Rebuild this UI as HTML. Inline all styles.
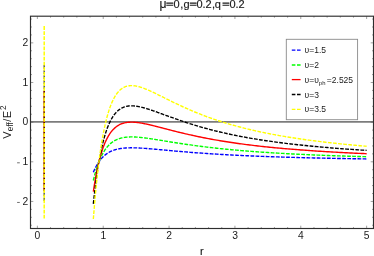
<!DOCTYPE html>
<html><head><meta charset="utf-8"><title>plot</title>
<style>
html,body{margin:0;padding:0;background:#fff;}
body{width:374px;height:256px;overflow:hidden;}
svg{display:block;}
text{font-family:"Liberation Sans",sans-serif;fill:#1a1a1a;}
svg{will-change:transform;transform:translateZ(0);}
</style></head><body>
<svg width="374" height="256" viewBox="0 0 374 256">
<rect width="374" height="256" fill="#fff"/>
<!-- zero line -->
<line x1="30.5" x2="373.5" y1="121.85" y2="121.85" stroke="#7c7c7c" stroke-width="1.85"/>
<!-- curves -->
<g>
<polyline points="93.34,172.31 93.88,171.04 94.43,169.83 94.97,168.68 95.52,167.58 96.06,166.54 96.61,165.54 97.15,164.60 97.70,163.70 98.24,162.84 98.79,162.03 99.33,161.25 99.88,160.51 100.42,159.81 100.97,159.14 101.51,158.50 102.06,157.90 102.60,157.32 103.14,156.77 103.69,156.25 104.23,155.75 104.78,155.28 105.32,154.83 105.87,154.41 106.41,154.00 106.96,153.62 107.50,153.25 108.05,152.91 108.59,152.58 109.14,152.26 109.68,151.97 110.23,151.69 110.77,151.42 111.32,151.17 111.86,150.93 112.41,150.70 112.95,150.49 113.50,150.29 114.04,150.10 114.59,149.92 115.13,149.75 115.68,149.59 116.22,149.44 116.77,149.30 117.31,149.17 117.86,149.04 118.40,148.93 118.95,148.82 119.49,148.71 120.04,148.62 120.58,148.53 121.13,148.45 121.67,148.38 122.21,148.31 122.76,148.24 123.30,148.18 123.85,148.13 124.39,148.08 124.94,148.04 125.48,148.00 126.03,147.96 126.57,147.93 127.12,147.90 127.66,147.88 128.21,147.86 128.75,147.84 129.30,147.83 129.84,147.82 130.39,147.81 130.93,147.81 131.48,147.81 132.02,147.81 132.57,147.81 133.11,147.82 133.66,147.83 134.20,147.84 134.75,147.85 135.29,147.87 135.84,147.88 136.38,147.90 136.93,147.92 137.47,147.94 138.02,147.97 138.56,147.99 139.11,148.02 139.65,148.05 140.19,148.08 140.74,148.11 141.28,148.14 141.83,148.17 142.37,148.21 142.92,148.24 143.46,148.28 144.01,148.32 144.55,148.35 145.10,148.39 145.64,148.43 146.19,148.47 146.73,148.51 147.28,148.56 147.82,148.60 148.37,148.64 148.91,148.69 149.46,148.73 150.00,148.77 150.55,148.82 151.09,148.87 151.64,148.91 152.18,148.96 152.73,149.00 153.27,149.05 153.82,149.10 154.36,149.15 154.91,149.20 155.45,149.24 156.00,149.29 156.54,149.34 157.09,149.39 157.63,149.44 158.17,149.49 158.72,149.54 159.26,149.59 159.81,149.64 160.35,149.69 160.90,149.74 161.44,149.79 161.99,149.84 162.53,149.89 163.08,149.94 163.62,149.99 164.17,150.04 164.71,150.08 165.26,150.13 165.80,150.18 166.35,150.23 166.89,150.28 167.44,150.33 167.98,150.38 168.53,150.43 169.07,150.48 170.72,150.63 172.36,150.78 174.01,150.93 175.66,151.07 177.30,151.22 178.95,151.36 180.60,151.50 182.24,151.64 183.89,151.78 185.54,151.92 187.18,152.05 188.83,152.19 190.48,152.32 192.12,152.45 193.77,152.57 195.41,152.70 197.06,152.82 198.71,152.94 200.35,153.06 202.00,153.18 203.65,153.30 205.29,153.41 206.94,153.52 208.59,153.63 210.23,153.74 211.88,153.85 213.52,153.95 215.17,154.06 216.82,154.16 218.46,154.26 220.11,154.36 221.76,154.45 223.40,154.55 225.05,154.64 226.70,154.73 228.34,154.82 229.99,154.91 231.64,155.00 233.28,155.09 234.93,155.17 236.57,155.25 238.22,155.33 239.87,155.41 241.51,155.49 243.16,155.57 244.81,155.65 246.45,155.72 248.10,155.79 249.75,155.87 251.39,155.94 253.04,156.01 254.68,156.08 256.33,156.14 257.98,156.21 259.62,156.28 261.27,156.34 262.92,156.40 264.56,156.47 266.21,156.53 267.86,156.59 269.50,156.65 271.15,156.71 272.80,156.76 274.44,156.82 276.09,156.88 277.73,156.93 279.38,156.98 281.03,157.04 282.67,157.09 284.32,157.14 285.97,157.19 287.61,157.24 289.26,157.29 290.91,157.34 292.55,157.39 294.20,157.43 295.84,157.48 297.49,157.52 299.14,157.57 300.78,157.61 302.43,157.66 304.08,157.70 305.72,157.74 307.37,157.78 309.02,157.82 310.66,157.86 312.31,157.90 313.96,157.94 315.60,157.98 317.25,158.02 318.89,158.06 320.54,158.09 322.19,158.13 323.83,158.17 325.48,158.20 327.13,158.24 328.77,158.27 330.42,158.30 332.07,158.34 333.71,158.37 335.36,158.40 337.00,158.44 338.65,158.47 340.30,158.50 341.94,158.53 343.59,158.56 345.24,158.59 346.88,158.62 348.53,158.65 350.18,158.68 351.82,158.70 353.47,158.73 355.12,158.76 356.76,158.79 358.41,158.81 360.05,158.84 361.70,158.87 363.35,158.89 364.99,158.92 366.64,158.94" stroke="#0000ff" stroke-width="1.38" fill="none" stroke-dasharray="3.75 1.35" stroke-linejoin="round"/>
<polyline points="93.34,180.49 93.88,178.22 94.43,176.07 94.97,174.03 95.52,172.08 96.06,170.22 96.61,168.46 97.15,166.78 97.70,165.18 98.24,163.65 98.79,162.20 99.33,160.82 99.88,159.51 100.42,158.26 100.97,157.07 101.51,155.94 102.06,154.86 102.60,153.84 103.14,152.86 103.69,151.93 104.23,151.05 104.78,150.21 105.32,149.42 105.87,148.66 106.41,147.94 106.96,147.26 107.50,146.61 108.05,145.99 108.59,145.40 109.14,144.85 109.68,144.32 110.23,143.82 110.77,143.35 111.32,142.90 111.86,142.48 112.41,142.07 112.95,141.69 113.50,141.34 114.04,141.00 114.59,140.68 115.13,140.38 115.68,140.09 116.22,139.83 116.77,139.57 117.31,139.34 117.86,139.12 118.40,138.91 118.95,138.72 119.49,138.54 120.04,138.37 120.58,138.21 121.13,138.07 121.67,137.93 122.21,137.81 122.76,137.70 123.30,137.59 123.85,137.50 124.39,137.41 124.94,137.33 125.48,137.26 126.03,137.20 126.57,137.14 127.12,137.09 127.66,137.05 128.21,137.02 128.75,136.99 129.30,136.96 129.84,136.95 130.39,136.93 130.93,136.93 131.48,136.92 132.02,136.93 132.57,136.93 133.11,136.95 133.66,136.96 134.20,136.98 134.75,137.00 135.29,137.03 135.84,137.06 136.38,137.09 136.93,137.13 137.47,137.17 138.02,137.21 138.56,137.26 139.11,137.30 139.65,137.35 140.19,137.41 140.74,137.46 141.28,137.52 141.83,137.58 142.37,137.64 142.92,137.70 143.46,137.76 144.01,137.83 144.55,137.90 145.10,137.97 145.64,138.04 146.19,138.11 146.73,138.18 147.28,138.26 147.82,138.33 148.37,138.41 148.91,138.49 149.46,138.56 150.00,138.64 150.55,138.72 151.09,138.81 151.64,138.89 152.18,138.97 152.73,139.05 153.27,139.14 153.82,139.22 154.36,139.31 154.91,139.39 155.45,139.48 156.00,139.56 156.54,139.65 157.09,139.74 157.63,139.82 158.17,139.91 158.72,140.00 159.26,140.09 159.81,140.18 160.35,140.26 160.90,140.35 161.44,140.44 161.99,140.53 162.53,140.62 163.08,140.71 163.62,140.80 164.17,140.88 164.71,140.97 165.26,141.06 165.80,141.15 166.35,141.24 166.89,141.33 167.44,141.42 167.98,141.50 168.53,141.59 169.07,141.68 170.72,141.95 172.36,142.21 174.01,142.47 175.66,142.73 177.30,142.99 178.95,143.24 180.60,143.49 182.24,143.74 183.89,143.99 185.54,144.23 187.18,144.47 188.83,144.71 190.48,144.94 192.12,145.17 193.77,145.40 195.41,145.62 197.06,145.84 198.71,146.06 200.35,146.27 202.00,146.48 203.65,146.68 205.29,146.89 206.94,147.09 208.59,147.28 210.23,147.48 211.88,147.67 213.52,147.85 215.17,148.04 216.82,148.22 218.46,148.39 220.11,148.57 221.76,148.74 223.40,148.91 225.05,149.07 226.70,149.24 228.34,149.40 229.99,149.56 231.64,149.71 233.28,149.86 234.93,150.01 236.57,150.16 238.22,150.30 239.87,150.45 241.51,150.59 243.16,150.72 244.81,150.86 246.45,150.99 248.10,151.12 249.75,151.25 251.39,151.38 253.04,151.50 254.68,151.63 256.33,151.75 257.98,151.86 259.62,151.98 261.27,152.09 262.92,152.21 264.56,152.32 266.21,152.43 267.86,152.53 269.50,152.64 271.15,152.74 272.80,152.85 274.44,152.95 276.09,153.04 277.73,153.14 279.38,153.24 281.03,153.33 282.67,153.43 284.32,153.52 285.97,153.61 287.61,153.70 289.26,153.78 290.91,153.87 292.55,153.95 294.20,154.04 295.84,154.12 297.49,154.20 299.14,154.28 300.78,154.36 302.43,154.43 304.08,154.51 305.72,154.58 307.37,154.66 309.02,154.73 310.66,154.80 312.31,154.87 313.96,154.94 315.60,155.01 317.25,155.08 318.89,155.15 320.54,155.21 322.19,155.28 323.83,155.34 325.48,155.40 327.13,155.46 328.77,155.53 330.42,155.59 332.07,155.64 333.71,155.70 335.36,155.76 337.00,155.82 338.65,155.87 340.30,155.93 341.94,155.98 343.59,156.04 345.24,156.09 346.88,156.14 348.53,156.20 350.18,156.25 351.82,156.30 353.47,156.35 355.12,156.40 356.76,156.44 358.41,156.49 360.05,156.54 361.70,156.59 363.35,156.63 364.99,156.68 366.64,156.72" stroke="#00ff00" stroke-width="1.38" fill="none" stroke-dasharray="3.75 1.35" stroke-linejoin="round"/>
<path d="M44.20 90.99 L44.20 191.14" stroke="#ff0000" stroke-width="1.48" fill="none"/>
<polyline points="93.34,191.58 93.88,187.98 94.43,184.55 94.97,181.29 95.52,178.18 96.06,175.22 96.61,172.41 97.15,169.73 97.70,167.18 98.24,164.75 98.79,162.44 99.33,160.24 99.88,158.15 100.42,156.16 100.97,154.26 101.51,152.46 102.06,150.74 102.60,149.11 103.14,147.55 103.69,146.08 104.23,144.67 104.78,143.33 105.32,142.06 105.87,140.86 106.41,139.71 106.96,138.62 107.50,137.58 108.05,136.60 108.59,135.67 109.14,134.78 109.68,133.94 110.23,133.14 110.77,132.39 111.32,131.68 111.86,131.00 112.41,130.36 112.95,129.75 113.50,129.18 114.04,128.64 114.59,128.13 115.13,127.65 115.68,127.20 116.22,126.78 116.77,126.38 117.31,126.00 117.86,125.65 118.40,125.32 118.95,125.01 119.49,124.72 120.04,124.45 120.58,124.20 121.13,123.97 121.67,123.76 122.21,123.56 122.76,123.38 123.30,123.21 123.85,123.06 124.39,122.92 124.94,122.80 125.48,122.69 126.03,122.59 126.57,122.50 127.12,122.42 127.66,122.35 128.21,122.30 128.75,122.25 129.30,122.21 129.84,122.19 130.39,122.17 130.93,122.15 131.48,122.15 132.02,122.16 132.57,122.17 133.11,122.18 133.66,122.21 134.20,122.24 134.75,122.28 135.29,122.32 135.84,122.37 136.38,122.42 136.93,122.48 137.47,122.54 138.02,122.61 138.56,122.68 139.11,122.75 139.65,122.83 140.19,122.92 140.74,123.01 141.28,123.10 141.83,123.19 142.37,123.29 142.92,123.39 143.46,123.49 144.01,123.59 144.55,123.70 145.10,123.81 145.64,123.92 146.19,124.04 146.73,124.16 147.28,124.27 147.82,124.39 148.37,124.52 148.91,124.64 149.46,124.76 150.00,124.89 150.55,125.02 151.09,125.15 151.64,125.28 152.18,125.41 152.73,125.54 153.27,125.68 153.82,125.81 154.36,125.95 154.91,126.08 155.45,126.22 156.00,126.36 156.54,126.49 157.09,126.63 157.63,126.77 158.17,126.91 158.72,127.05 159.26,127.19 159.81,127.33 160.35,127.47 160.90,127.61 161.44,127.76 161.99,127.90 162.53,128.04 163.08,128.18 163.62,128.32 164.17,128.46 164.71,128.60 165.26,128.75 165.80,128.89 166.35,129.03 166.89,129.17 167.44,129.31 167.98,129.45 168.53,129.59 169.07,129.73 170.72,130.16 172.36,130.58 174.01,130.99 175.66,131.41 177.30,131.82 178.95,132.22 180.60,132.62 182.24,133.02 183.89,133.41 185.54,133.80 187.18,134.18 188.83,134.56 190.48,134.93 192.12,135.29 193.77,135.65 195.41,136.01 197.06,136.36 198.71,136.70 200.35,137.04 202.00,137.38 203.65,137.71 205.29,138.03 206.94,138.35 208.59,138.66 210.23,138.97 211.88,139.27 213.52,139.57 215.17,139.86 216.82,140.15 218.46,140.43 220.11,140.71 221.76,140.98 223.40,141.25 225.05,141.52 226.70,141.78 228.34,142.03 229.99,142.28 231.64,142.53 233.28,142.77 234.93,143.01 236.57,143.25 238.22,143.48 239.87,143.70 241.51,143.93 243.16,144.15 244.81,144.36 246.45,144.57 248.10,144.78 249.75,144.99 251.39,145.19 253.04,145.39 254.68,145.58 256.33,145.77 257.98,145.96 259.62,146.15 261.27,146.33 262.92,146.51 264.56,146.69 266.21,146.86 267.86,147.03 269.50,147.20 271.15,147.36 272.80,147.53 274.44,147.69 276.09,147.85 277.73,148.00 279.38,148.15 281.03,148.30 282.67,148.45 284.32,148.60 285.97,148.74 287.61,148.88 289.26,149.02 290.91,149.16 292.55,149.29 294.20,149.42 295.84,149.56 297.49,149.68 299.14,149.81 300.78,149.94 302.43,150.06 304.08,150.18 305.72,150.30 307.37,150.42 309.02,150.53 310.66,150.65 312.31,150.76 313.96,150.87 315.60,150.98 317.25,151.09 318.89,151.19 320.54,151.30 322.19,151.40 323.83,151.50 325.48,151.60 327.13,151.70 328.77,151.80 330.42,151.89 332.07,151.99 333.71,152.08 335.36,152.17 337.00,152.27 338.65,152.35 340.30,152.44 341.94,152.53 343.59,152.62 345.24,152.70 346.88,152.78 348.53,152.87 350.18,152.95 351.82,153.03 353.47,153.11 355.12,153.19 356.76,153.26 358.41,153.34 360.05,153.41 361.70,153.49 363.35,153.56 364.99,153.63 366.64,153.71" stroke="#ff0000" stroke-width="1.38" fill="none" stroke-linejoin="round"/>
<path d="M44.20 65.05 L44.20 201.05" stroke="#000000" stroke-width="1.48" fill="none" stroke-dasharray="3.8 1.3" opacity="0.65"/>
<polyline points="93.34,203.84 93.88,198.76 94.43,193.91 94.97,189.31 95.52,184.92 96.06,180.75 96.61,176.78 97.15,172.99 97.70,169.39 98.24,165.97 98.79,162.71 99.33,159.60 99.88,156.65 100.42,153.84 100.97,151.16 101.51,148.61 102.06,146.19 102.60,143.88 103.14,141.69 103.69,139.60 104.23,137.62 104.78,135.73 105.32,133.94 105.87,132.23 106.41,130.61 106.96,129.08 107.50,127.61 108.05,126.23 108.59,124.91 109.14,123.66 109.68,122.47 110.23,121.35 110.77,120.28 111.32,119.28 111.86,118.32 112.41,117.42 112.95,116.56 113.50,115.76 114.04,114.99 114.59,114.28 115.13,113.60 115.68,112.96 116.22,112.36 116.77,111.79 117.31,111.26 117.86,110.77 118.40,110.30 118.95,109.87 119.49,109.46 120.04,109.08 120.58,108.73 121.13,108.40 121.67,108.10 122.21,107.82 122.76,107.57 123.30,107.33 123.85,107.12 124.39,106.92 124.94,106.74 125.48,106.59 126.03,106.45 126.57,106.32 127.12,106.21 127.66,106.12 128.21,106.04 128.75,105.97 129.30,105.92 129.84,105.88 130.39,105.85 130.93,105.84 131.48,105.83 132.02,105.84 132.57,105.85 133.11,105.88 133.66,105.91 134.20,105.95 134.75,106.01 135.29,106.07 135.84,106.13 136.38,106.21 136.93,106.29 137.47,106.38 138.02,106.47 138.56,106.58 139.11,106.68 139.65,106.80 140.19,106.91 140.74,107.04 141.28,107.16 141.83,107.30 142.37,107.43 142.92,107.57 143.46,107.72 144.01,107.87 144.55,108.02 145.10,108.17 145.64,108.33 146.19,108.50 146.73,108.66 147.28,108.83 147.82,109.00 148.37,109.17 148.91,109.34 149.46,109.52 150.00,109.70 150.55,109.88 151.09,110.06 151.64,110.25 152.18,110.43 152.73,110.62 153.27,110.81 153.82,111.00 154.36,111.19 154.91,111.38 155.45,111.57 156.00,111.77 156.54,111.96 157.09,112.16 157.63,112.35 158.17,112.55 158.72,112.75 159.26,112.95 159.81,113.14 160.35,113.34 160.90,113.54 161.44,113.74 161.99,113.94 162.53,114.14 163.08,114.34 163.62,114.54 164.17,114.74 164.71,114.94 165.26,115.14 165.80,115.34 166.35,115.54 166.89,115.74 167.44,115.94 167.98,116.14 168.53,116.33 169.07,116.53 170.72,117.13 172.36,117.72 174.01,118.31 175.66,118.90 177.30,119.47 178.95,120.05 180.60,120.61 182.24,121.17 183.89,121.73 185.54,122.27 187.18,122.81 188.83,123.34 190.48,123.87 192.12,124.38 193.77,124.89 195.41,125.39 197.06,125.89 198.71,126.37 200.35,126.85 202.00,127.32 203.65,127.79 205.29,128.25 206.94,128.69 208.59,129.14 210.23,129.57 211.88,130.00 213.52,130.42 215.17,130.83 216.82,131.24 218.46,131.64 220.11,132.03 221.76,132.42 223.40,132.80 225.05,133.17 226.70,133.54 228.34,133.90 229.99,134.25 231.64,134.60 233.28,134.94 234.93,135.28 236.57,135.61 238.22,135.94 239.87,136.26 241.51,136.57 243.16,136.88 244.81,137.18 246.45,137.48 248.10,137.78 249.75,138.07 251.39,138.35 253.04,138.63 254.68,138.91 256.33,139.18 257.98,139.44 259.62,139.71 261.27,139.96 262.92,140.22 264.56,140.47 266.21,140.71 267.86,140.95 269.50,141.19 271.15,141.42 272.80,141.65 274.44,141.88 276.09,142.10 277.73,142.32 279.38,142.54 281.03,142.75 282.67,142.96 284.32,143.16 285.97,143.36 287.61,143.56 289.26,143.76 290.91,143.95 292.55,144.14 294.20,144.33 295.84,144.52 297.49,144.70 299.14,144.88 300.78,145.05 302.43,145.23 304.08,145.40 305.72,145.56 307.37,145.73 309.02,145.89 310.66,146.06 312.31,146.21 313.96,146.37 315.60,146.52 317.25,146.68 318.89,146.83 320.54,146.97 322.19,147.12 323.83,147.26 325.48,147.40 327.13,147.54 328.77,147.68 330.42,147.82 332.07,147.95 333.71,148.08 335.36,148.21 337.00,148.34 338.65,148.47 340.30,148.59 341.94,148.71 343.59,148.84 345.24,148.96 346.88,149.07 348.53,149.19 350.18,149.30 351.82,149.42 353.47,149.53 355.12,149.64 356.76,149.75 358.41,149.86 360.05,149.96 361.70,150.07 363.35,150.17 364.99,150.27 366.64,150.37" stroke="#000000" stroke-width="1.38" fill="none" stroke-dasharray="3.75 1.35" stroke-linejoin="round"/>
<path d="M44.20 26.12 L44.20 218.50" stroke="#ffff00" stroke-width="1.48" fill="none" stroke-dasharray="3.8 1.3"/>
<polyline points="93.34,219.02 93.88,212.10 94.43,205.51 94.97,199.24 95.52,193.27 96.06,187.59 96.61,182.18 97.15,177.04 97.70,172.14 98.24,167.47 98.79,163.03 99.33,158.81 99.88,154.79 100.42,150.96 100.97,147.32 101.51,143.85 102.06,140.55 102.60,137.41 103.14,134.43 103.69,131.59 104.23,128.89 104.78,126.32 105.32,123.88 105.87,121.56 106.41,119.35 106.96,117.26 107.50,115.27 108.05,113.38 108.59,111.59 109.14,109.89 109.68,108.27 110.23,106.74 110.77,105.29 111.32,103.92 111.86,102.62 112.41,101.39 112.95,100.23 113.50,99.13 114.04,98.09 114.59,97.11 115.13,96.19 115.68,95.32 116.22,94.50 116.77,93.74 117.31,93.01 117.86,92.34 118.40,91.70 118.95,91.11 119.49,90.56 120.04,90.04 120.58,89.57 121.13,89.12 121.67,88.71 122.21,88.33 122.76,87.98 123.30,87.66 123.85,87.37 124.39,87.10 124.94,86.86 125.48,86.65 126.03,86.46 126.57,86.29 127.12,86.14 127.66,86.01 128.21,85.90 128.75,85.81 129.30,85.74 129.84,85.69 130.39,85.65 130.93,85.63 131.48,85.62 132.02,85.63 132.57,85.65 133.11,85.68 133.66,85.73 134.20,85.79 134.75,85.86 135.29,85.94 135.84,86.03 136.38,86.13 136.93,86.25 137.47,86.37 138.02,86.50 138.56,86.63 139.11,86.78 139.65,86.93 140.19,87.09 140.74,87.26 141.28,87.43 141.83,87.61 142.37,87.80 142.92,87.99 143.46,88.19 144.01,88.39 144.55,88.60 145.10,88.81 145.64,89.03 146.19,89.25 146.73,89.47 147.28,89.70 147.82,89.93 148.37,90.16 148.91,90.40 149.46,90.64 150.00,90.88 150.55,91.13 151.09,91.38 151.64,91.63 152.18,91.88 152.73,92.14 153.27,92.39 153.82,92.65 154.36,92.91 154.91,93.17 155.45,93.44 156.00,93.70 156.54,93.97 157.09,94.23 157.63,94.50 158.17,94.77 158.72,95.04 159.26,95.30 159.81,95.57 160.35,95.84 160.90,96.12 161.44,96.39 161.99,96.66 162.53,96.93 163.08,97.20 163.62,97.47 164.17,97.75 164.71,98.02 165.26,98.29 165.80,98.56 166.35,98.83 166.89,99.10 167.44,99.38 167.98,99.65 168.53,99.92 169.07,100.19 170.72,101.00 172.36,101.81 174.01,102.61 175.66,103.40 177.30,104.19 178.95,104.97 180.60,105.74 182.24,106.50 183.89,107.25 185.54,108.00 187.18,108.73 188.83,109.45 190.48,110.17 192.12,110.87 193.77,111.56 195.41,112.25 197.06,112.92 198.71,113.58 200.35,114.23 202.00,114.88 203.65,115.51 205.29,116.13 206.94,116.74 208.59,117.34 210.23,117.93 211.88,118.51 213.52,119.09 215.17,119.65 216.82,120.20 218.46,120.74 220.11,121.28 221.76,121.80 223.40,122.32 225.05,122.83 226.70,123.33 228.34,123.82 229.99,124.30 231.64,124.78 233.28,125.24 234.93,125.70 236.57,126.15 238.22,126.60 239.87,127.03 241.51,127.46 243.16,127.88 244.81,128.30 246.45,128.70 248.10,129.10 249.75,129.50 251.39,129.88 253.04,130.27 254.68,130.64 256.33,131.01 257.98,131.37 259.62,131.73 261.27,132.08 262.92,132.42 264.56,132.76 266.21,133.10 267.86,133.42 269.50,133.75 271.15,134.06 272.80,134.38 274.44,134.68 276.09,134.99 277.73,135.29 279.38,135.58 281.03,135.87 282.67,136.15 284.32,136.43 285.97,136.71 287.61,136.98 289.26,137.25 290.91,137.51 292.55,137.77 294.20,138.02 295.84,138.27 297.49,138.52 299.14,138.76 300.78,139.00 302.43,139.24 304.08,139.47 305.72,139.70 307.37,139.93 309.02,140.15 310.66,140.37 312.31,140.59 313.96,140.80 315.60,141.01 317.25,141.22 318.89,141.42 320.54,141.62 322.19,141.82 323.83,142.01 325.48,142.21 327.13,142.40 328.77,142.58 330.42,142.77 332.07,142.95 333.71,143.13 335.36,143.31 337.00,143.48 338.65,143.65 340.30,143.82 341.94,143.99 343.59,144.15 345.24,144.32 346.88,144.48 348.53,144.64 350.18,144.79 351.82,144.95 353.47,145.10 355.12,145.25 356.76,145.40 358.41,145.54 360.05,145.69 361.70,145.83 363.35,145.97 364.99,146.11 366.64,146.25" stroke="#ffff00" stroke-width="1.38" fill="none" stroke-dasharray="3.75 1.35" stroke-linejoin="round"/>
</g>
<!-- ticks -->
<line x1="37.36" y1="228.50" x2="37.36" y2="225.70" stroke="#444" stroke-width="0.5"/>
<line x1="37.36" y1="16.20" x2="37.36" y2="19.00" stroke="#444" stroke-width="0.5"/>
<line x1="50.53" y1="228.50" x2="50.53" y2="227.00" stroke="#444" stroke-width="0.5"/>
<line x1="50.53" y1="16.20" x2="50.53" y2="17.70" stroke="#444" stroke-width="0.5"/>
<line x1="63.70" y1="228.50" x2="63.70" y2="227.00" stroke="#444" stroke-width="0.5"/>
<line x1="63.70" y1="16.20" x2="63.70" y2="17.70" stroke="#444" stroke-width="0.5"/>
<line x1="76.87" y1="228.50" x2="76.87" y2="227.00" stroke="#444" stroke-width="0.5"/>
<line x1="76.87" y1="16.20" x2="76.87" y2="17.70" stroke="#444" stroke-width="0.5"/>
<line x1="90.04" y1="228.50" x2="90.04" y2="227.00" stroke="#444" stroke-width="0.5"/>
<line x1="90.04" y1="16.20" x2="90.04" y2="17.70" stroke="#444" stroke-width="0.5"/>
<line x1="103.22" y1="228.50" x2="103.22" y2="225.70" stroke="#444" stroke-width="0.5"/>
<line x1="103.22" y1="16.20" x2="103.22" y2="19.00" stroke="#444" stroke-width="0.5"/>
<line x1="116.39" y1="228.50" x2="116.39" y2="227.00" stroke="#444" stroke-width="0.5"/>
<line x1="116.39" y1="16.20" x2="116.39" y2="17.70" stroke="#444" stroke-width="0.5"/>
<line x1="129.56" y1="228.50" x2="129.56" y2="227.00" stroke="#444" stroke-width="0.5"/>
<line x1="129.56" y1="16.20" x2="129.56" y2="17.70" stroke="#444" stroke-width="0.5"/>
<line x1="142.73" y1="228.50" x2="142.73" y2="227.00" stroke="#444" stroke-width="0.5"/>
<line x1="142.73" y1="16.20" x2="142.73" y2="17.70" stroke="#444" stroke-width="0.5"/>
<line x1="155.90" y1="228.50" x2="155.90" y2="227.00" stroke="#444" stroke-width="0.5"/>
<line x1="155.90" y1="16.20" x2="155.90" y2="17.70" stroke="#444" stroke-width="0.5"/>
<line x1="169.07" y1="228.50" x2="169.07" y2="225.70" stroke="#444" stroke-width="0.5"/>
<line x1="169.07" y1="16.20" x2="169.07" y2="19.00" stroke="#444" stroke-width="0.5"/>
<line x1="182.24" y1="228.50" x2="182.24" y2="227.00" stroke="#444" stroke-width="0.5"/>
<line x1="182.24" y1="16.20" x2="182.24" y2="17.70" stroke="#444" stroke-width="0.5"/>
<line x1="195.41" y1="228.50" x2="195.41" y2="227.00" stroke="#444" stroke-width="0.5"/>
<line x1="195.41" y1="16.20" x2="195.41" y2="17.70" stroke="#444" stroke-width="0.5"/>
<line x1="208.59" y1="228.50" x2="208.59" y2="227.00" stroke="#444" stroke-width="0.5"/>
<line x1="208.59" y1="16.20" x2="208.59" y2="17.70" stroke="#444" stroke-width="0.5"/>
<line x1="221.76" y1="228.50" x2="221.76" y2="227.00" stroke="#444" stroke-width="0.5"/>
<line x1="221.76" y1="16.20" x2="221.76" y2="17.70" stroke="#444" stroke-width="0.5"/>
<line x1="234.93" y1="228.50" x2="234.93" y2="225.70" stroke="#444" stroke-width="0.5"/>
<line x1="234.93" y1="16.20" x2="234.93" y2="19.00" stroke="#444" stroke-width="0.5"/>
<line x1="248.10" y1="228.50" x2="248.10" y2="227.00" stroke="#444" stroke-width="0.5"/>
<line x1="248.10" y1="16.20" x2="248.10" y2="17.70" stroke="#444" stroke-width="0.5"/>
<line x1="261.27" y1="228.50" x2="261.27" y2="227.00" stroke="#444" stroke-width="0.5"/>
<line x1="261.27" y1="16.20" x2="261.27" y2="17.70" stroke="#444" stroke-width="0.5"/>
<line x1="274.44" y1="228.50" x2="274.44" y2="227.00" stroke="#444" stroke-width="0.5"/>
<line x1="274.44" y1="16.20" x2="274.44" y2="17.70" stroke="#444" stroke-width="0.5"/>
<line x1="287.61" y1="228.50" x2="287.61" y2="227.00" stroke="#444" stroke-width="0.5"/>
<line x1="287.61" y1="16.20" x2="287.61" y2="17.70" stroke="#444" stroke-width="0.5"/>
<line x1="300.78" y1="228.50" x2="300.78" y2="225.70" stroke="#444" stroke-width="0.5"/>
<line x1="300.78" y1="16.20" x2="300.78" y2="19.00" stroke="#444" stroke-width="0.5"/>
<line x1="313.96" y1="228.50" x2="313.96" y2="227.00" stroke="#444" stroke-width="0.5"/>
<line x1="313.96" y1="16.20" x2="313.96" y2="17.70" stroke="#444" stroke-width="0.5"/>
<line x1="327.13" y1="228.50" x2="327.13" y2="227.00" stroke="#444" stroke-width="0.5"/>
<line x1="327.13" y1="16.20" x2="327.13" y2="17.70" stroke="#444" stroke-width="0.5"/>
<line x1="340.30" y1="228.50" x2="340.30" y2="227.00" stroke="#444" stroke-width="0.5"/>
<line x1="340.30" y1="16.20" x2="340.30" y2="17.70" stroke="#444" stroke-width="0.5"/>
<line x1="353.47" y1="228.50" x2="353.47" y2="227.00" stroke="#444" stroke-width="0.5"/>
<line x1="353.47" y1="16.20" x2="353.47" y2="17.70" stroke="#444" stroke-width="0.5"/>
<line x1="366.64" y1="228.50" x2="366.64" y2="225.70" stroke="#444" stroke-width="0.5"/>
<line x1="366.64" y1="16.20" x2="366.64" y2="19.00" stroke="#444" stroke-width="0.5"/>
<line x1="30.50" y1="225.24" x2="32.00" y2="225.24" stroke="#444" stroke-width="0.5"/>
<line x1="373.50" y1="225.24" x2="372.00" y2="225.24" stroke="#444" stroke-width="0.5"/>
<line x1="30.50" y1="217.31" x2="32.00" y2="217.31" stroke="#444" stroke-width="0.5"/>
<line x1="373.50" y1="217.31" x2="372.00" y2="217.31" stroke="#444" stroke-width="0.5"/>
<line x1="30.50" y1="209.38" x2="32.00" y2="209.38" stroke="#444" stroke-width="0.5"/>
<line x1="373.50" y1="209.38" x2="372.00" y2="209.38" stroke="#444" stroke-width="0.5"/>
<line x1="30.50" y1="201.45" x2="33.30" y2="201.45" stroke="#444" stroke-width="0.5"/>
<line x1="373.50" y1="201.45" x2="370.70" y2="201.45" stroke="#444" stroke-width="0.5"/>
<line x1="30.50" y1="193.52" x2="32.00" y2="193.52" stroke="#444" stroke-width="0.5"/>
<line x1="373.50" y1="193.52" x2="372.00" y2="193.52" stroke="#444" stroke-width="0.5"/>
<line x1="30.50" y1="185.59" x2="32.00" y2="185.59" stroke="#444" stroke-width="0.5"/>
<line x1="373.50" y1="185.59" x2="372.00" y2="185.59" stroke="#444" stroke-width="0.5"/>
<line x1="30.50" y1="177.66" x2="32.00" y2="177.66" stroke="#444" stroke-width="0.5"/>
<line x1="373.50" y1="177.66" x2="372.00" y2="177.66" stroke="#444" stroke-width="0.5"/>
<line x1="30.50" y1="169.73" x2="32.00" y2="169.73" stroke="#444" stroke-width="0.5"/>
<line x1="373.50" y1="169.73" x2="372.00" y2="169.73" stroke="#444" stroke-width="0.5"/>
<line x1="30.50" y1="161.80" x2="33.30" y2="161.80" stroke="#444" stroke-width="0.5"/>
<line x1="373.50" y1="161.80" x2="370.70" y2="161.80" stroke="#444" stroke-width="0.5"/>
<line x1="30.50" y1="153.87" x2="32.00" y2="153.87" stroke="#444" stroke-width="0.5"/>
<line x1="373.50" y1="153.87" x2="372.00" y2="153.87" stroke="#444" stroke-width="0.5"/>
<line x1="30.50" y1="145.94" x2="32.00" y2="145.94" stroke="#444" stroke-width="0.5"/>
<line x1="373.50" y1="145.94" x2="372.00" y2="145.94" stroke="#444" stroke-width="0.5"/>
<line x1="30.50" y1="138.01" x2="32.00" y2="138.01" stroke="#444" stroke-width="0.5"/>
<line x1="373.50" y1="138.01" x2="372.00" y2="138.01" stroke="#444" stroke-width="0.5"/>
<line x1="30.50" y1="130.08" x2="32.00" y2="130.08" stroke="#444" stroke-width="0.5"/>
<line x1="373.50" y1="130.08" x2="372.00" y2="130.08" stroke="#444" stroke-width="0.5"/>
<line x1="30.50" y1="122.15" x2="33.30" y2="122.15" stroke="#444" stroke-width="0.5"/>
<line x1="373.50" y1="122.15" x2="370.70" y2="122.15" stroke="#444" stroke-width="0.5"/>
<line x1="30.50" y1="114.22" x2="32.00" y2="114.22" stroke="#444" stroke-width="0.5"/>
<line x1="373.50" y1="114.22" x2="372.00" y2="114.22" stroke="#444" stroke-width="0.5"/>
<line x1="30.50" y1="106.29" x2="32.00" y2="106.29" stroke="#444" stroke-width="0.5"/>
<line x1="373.50" y1="106.29" x2="372.00" y2="106.29" stroke="#444" stroke-width="0.5"/>
<line x1="30.50" y1="98.36" x2="32.00" y2="98.36" stroke="#444" stroke-width="0.5"/>
<line x1="373.50" y1="98.36" x2="372.00" y2="98.36" stroke="#444" stroke-width="0.5"/>
<line x1="30.50" y1="90.43" x2="32.00" y2="90.43" stroke="#444" stroke-width="0.5"/>
<line x1="373.50" y1="90.43" x2="372.00" y2="90.43" stroke="#444" stroke-width="0.5"/>
<line x1="30.50" y1="82.50" x2="33.30" y2="82.50" stroke="#444" stroke-width="0.5"/>
<line x1="373.50" y1="82.50" x2="370.70" y2="82.50" stroke="#444" stroke-width="0.5"/>
<line x1="30.50" y1="74.57" x2="32.00" y2="74.57" stroke="#444" stroke-width="0.5"/>
<line x1="373.50" y1="74.57" x2="372.00" y2="74.57" stroke="#444" stroke-width="0.5"/>
<line x1="30.50" y1="66.64" x2="32.00" y2="66.64" stroke="#444" stroke-width="0.5"/>
<line x1="373.50" y1="66.64" x2="372.00" y2="66.64" stroke="#444" stroke-width="0.5"/>
<line x1="30.50" y1="58.71" x2="32.00" y2="58.71" stroke="#444" stroke-width="0.5"/>
<line x1="373.50" y1="58.71" x2="372.00" y2="58.71" stroke="#444" stroke-width="0.5"/>
<line x1="30.50" y1="50.78" x2="32.00" y2="50.78" stroke="#444" stroke-width="0.5"/>
<line x1="373.50" y1="50.78" x2="372.00" y2="50.78" stroke="#444" stroke-width="0.5"/>
<line x1="30.50" y1="42.85" x2="33.30" y2="42.85" stroke="#444" stroke-width="0.5"/>
<line x1="373.50" y1="42.85" x2="370.70" y2="42.85" stroke="#444" stroke-width="0.5"/>
<line x1="30.50" y1="34.92" x2="32.00" y2="34.92" stroke="#444" stroke-width="0.5"/>
<line x1="373.50" y1="34.92" x2="372.00" y2="34.92" stroke="#444" stroke-width="0.5"/>
<line x1="30.50" y1="26.99" x2="32.00" y2="26.99" stroke="#444" stroke-width="0.5"/>
<line x1="373.50" y1="26.99" x2="372.00" y2="26.99" stroke="#444" stroke-width="0.5"/>
<line x1="30.50" y1="19.06" x2="32.00" y2="19.06" stroke="#444" stroke-width="0.5"/>
<line x1="373.50" y1="19.06" x2="372.00" y2="19.06" stroke="#444" stroke-width="0.5"/>
<!-- frame -->
<rect x="30.5" y="16.2" width="343.0" height="212.3" fill="none" stroke="#2e2e2e" stroke-width="1.15"/>
<!-- labels -->
<text x="37.46" y="239.1" text-anchor="middle" font-size="10.3">0</text>
<text x="103.32" y="239.1" text-anchor="middle" font-size="10.3">1</text>
<text x="169.17" y="239.1" text-anchor="middle" font-size="10.3">2</text>
<text x="235.03" y="239.1" text-anchor="middle" font-size="10.3">3</text>
<text x="300.88" y="239.1" text-anchor="middle" font-size="10.3">4</text>
<text x="366.74" y="239.1" text-anchor="middle" font-size="10.3">5</text>
<text x="28.3" y="45.90" text-anchor="end" font-size="10.3">2</text>
<text x="28.3" y="85.55" text-anchor="end" font-size="10.3">1</text>
<text x="28.3" y="125.20" text-anchor="end" font-size="10.3">0</text>
<text x="28.3" y="164.85" text-anchor="end" font-size="10.3">1</text>
<line x1="17.1" x2="19.8" y1="162.80" y2="162.80" stroke="#333" stroke-width="0.7"/>
<text x="28.3" y="204.50" text-anchor="end" font-size="10.3">2</text>
<line x1="17.1" x2="19.8" y1="202.45" y2="202.45" stroke="#333" stroke-width="0.7"/>
<!-- title -->
<g font-size="11" stroke="#1a1a1a" stroke-width="0.15">
<text x="159.5" y="7.9" font-size="12.2">μ</text>
<text x="173.45" y="7.9">0</text>
<text x="180.2" y="7.9">,</text>
<text x="183.5" y="7.9">g</text>
<text x="196.4" y="7.9">0.2</text>
<text x="212.0" y="7.9">,</text>
<text x="214.8" y="7.9">q</text>
<text x="229.4" y="7.9">0.2</text>
<path d="M166.3 3.1h7M166.3 5.25h7M189.8 3.1h6.8M189.8 5.25h6.8M222.5 3.1h6.8M222.5 5.25h6.8" stroke-width="1.05" fill="none"/>
</g>
<!-- axis labels -->
<text x="199.9" y="255.3" font-size="11" stroke="#1a1a1a" stroke-width="0.15">r</text>
<g transform="translate(10.5,138.75) rotate(-90)">
<text x="0" y="0" font-size="11">V</text>
<text x="7.6" y="2.4" font-size="8.2">eff</text>
<text x="17.0" y="0" font-size="11">/</text>
<text x="20.6" y="0" font-size="11">E</text>
<text x="28.8" y="-4.9" font-size="8.2">2</text>
</g>
<!-- legend -->
<rect x="286.3" y="39.3" width="71.3" height="80.4" fill="#fff" stroke="#8a8a8a" stroke-width="0.9"/>
<line x1="291.8" x2="300.6" y1="50.10" y2="50.10" stroke="#0000ff" stroke-width="1.3" stroke-dasharray="3.6 1.6"/>
<text x="304.6" y="53.10" font-size="8.5" fill="#2a2a2a">υ=1.5</text>
<line x1="291.8" x2="300.6" y1="65.00" y2="65.00" stroke="#00ff00" stroke-width="1.3" stroke-dasharray="3.6 1.6"/>
<text x="304.6" y="68.00" font-size="8.5" fill="#2a2a2a">υ=2</text>
<line x1="291.8" x2="300.6" y1="79.60" y2="79.60" stroke="#ff0000" stroke-width="1.3"/>
<text x="304.6" y="82.60" font-size="8.5" fill="#2a2a2a">υ=υ<tspan font-size="5.9" dy="2.0">ph</tspan><tspan dy="-2.0" dx="1.4">=2.525</tspan></text>
<line x1="291.8" x2="300.6" y1="94.50" y2="94.50" stroke="#000000" stroke-width="1.3" stroke-dasharray="3.6 1.6"/>
<text x="304.6" y="97.50" font-size="8.5" fill="#2a2a2a">υ=3</text>
<line x1="291.8" x2="300.6" y1="109.40" y2="109.40" stroke="#ffff00" stroke-width="1.3" stroke-dasharray="3.6 1.6"/>
<text x="304.6" y="112.40" font-size="8.5" fill="#2a2a2a">υ=3.5</text>
</svg>
</body></html>
